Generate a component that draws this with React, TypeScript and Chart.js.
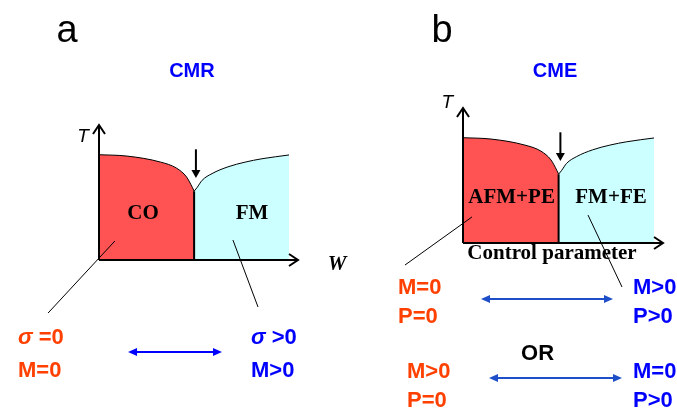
import React, { useEffect, useRef } from "react";
import { Chart, registerables } from "chart.js";

Chart.register(...registerables);

// Schematic phase diagram: control parameter (x, 0..10) vs temperature T (y, 0..10)
const leftPhaseX = [0, 1.4, 3.1, 3.9, 4.4, 4.7, 4.78];
const leftPhaseT = [7.8, 7.7, 7.25, 6.8, 6.15, 5.35, 5.1];
const rightPhaseX = [4.78, 4.92, 5.18, 5.68, 6.48, 7.34, 8.19, 9.55];
const rightPhaseT = [5.1, 5.35, 5.9, 6.4, 6.9, 7.25, 7.5, 7.78];
const criticalX = 4.78;
const criticalT = 5.1;

const RED_FILL = "#ff5252";
const CYAN_FILL = "#ccffff";
const STATE_RED = "#ff4000";
const STATE_BLUE = "#0000ff";
const ARROW_BLUE_B = "#1f4fc8";

const SANS = "'Liberation Sans', Arial, sans-serif";
const SERIF = "'Liberation Serif', 'Times New Roman', serif";

type Seg = { t: string; font: string };
type Label = {
  segs: Seg[];
  x: number;
  y: number;
  color: string;
  align?: "left" | "center";
  baseline?: CanvasTextBaseline;
};
type Arrow2 = { x1: number; x2: number; y: number; color: string };

type PanelSpec = {
  left: number;
  width: number;
  padding: { left: number; right: number; top: number; bottom: number };
  labels: Label[];
  arrows: Arrow2[];
  leaders: number[][];
};

const plain = (t: string, font: string): Seg[] => [{ t, font }];
const STATE_FONT = `bold 22px ${SANS}`;
const sigma = (rest: string): Seg[] => [
  { t: "\u03c3", font: `italic bold 22px ${SANS}` },
  { t: rest, font: STATE_FONT },
];

const panelA: PanelSpec = {
  left: 0,
  width: 360,
  padding: { left: 99, right: 62, top: 125, bottom: 150 },
  labels: [
    { segs: plain("a", `38px ${SANS}`), x: -1.61, y: 16.15, color: "#000", align: "center", baseline: "alphabetic" },
    { segs: plain("CMR", `bold 20px ${SANS}`), x: 4.67, y: 14.0, color: STATE_BLUE, align: "center" },
    { segs: plain("T", `italic 19px ${SANS}`), x: -0.8, y: 9.11, color: "#000", align: "center" },
    { segs: plain("W", `italic bold 21px ${SERIF}`), x: 11.96, y: -0.37, color: "#000", align: "center" },
    { segs: plain("CO", `bold 21px ${SERIF}`), x: 2.21, y: 3.41, color: "#000", align: "center" },
    { segs: plain("FM", `bold 21px ${SERIF}`), x: 7.69, y: 3.41, color: "#000", align: "center" },
    { segs: sigma(" =0"), x: -4.07, y: -5.78, color: STATE_RED },
    { segs: plain("M=0", STATE_FONT), x: -4.07, y: -8.22, color: STATE_RED },
    { segs: sigma(" >0"), x: 7.64, y: -5.78, color: STATE_BLUE },
    { segs: plain("M>0", STATE_FONT), x: 7.64, y: -8.22, color: STATE_BLUE },
  ],
  arrows: [{ x1: 1.46, x2: 6.18, y: -6.81, color: STATE_BLUE }],
  leaders: [
    [0.8, 1.41, -2.56, -3.93],
    [6.73, 1.48, 7.99, -3.48],
  ],
};

const panelB: PanelSpec = {
  left: 360,
  width: 317,
  padding: { left: 103, right: 14, top: 108, bottom: 167 },
  labels: [
    { segs: plain("b", `38px ${SANS}`), x: -1.05, y: 14.89, color: "#000", align: "center", baseline: "alphabetic" },
    { segs: plain("CME", `bold 20px ${SANS}`), x: 4.6, y: 12.74, color: STATE_BLUE, align: "center" },
    { segs: plain("T", `italic 19px ${SANS}`), x: -0.78, y: 10.37, color: "#000", align: "center" },
    { segs: plain("AFM+PE", `bold 21px ${SERIF}`), x: 2.43, y: 3.33, color: "#000", align: "center" },
    { segs: plain("FM+FE", `bold 21px ${SERIF}`), x: 7.4, y: 3.33, color: "#000", align: "center" },
    { segs: plain("Control parameter", `bold 21px ${SERIF}`), x: 4.45, y: -0.81, color: "#000", align: "center" },
    { segs: plain("M=0", STATE_FONT), x: -3.25, y: -3.33, color: STATE_RED },
    { segs: plain("P=0", STATE_FONT), x: -3.25, y: -5.48, color: STATE_RED },
    { segs: plain("M>0", STATE_FONT), x: 8.5, y: -3.33, color: STATE_BLUE },
    { segs: plain("P>0", STATE_FONT), x: 8.5, y: -5.48, color: STATE_BLUE },
    { segs: plain("OR", STATE_FONT), x: 3.73, y: -8.22, color: "#000", align: "center" },
    { segs: plain("M>0", STATE_FONT), x: -2.8, y: -9.56, color: STATE_RED },
    { segs: plain("P=0", STATE_FONT), x: -2.8, y: -11.7, color: STATE_RED },
    { segs: plain("M=0", STATE_FONT), x: 8.5, y: -9.56, color: STATE_BLUE },
    { segs: plain("P>0", STATE_FONT), x: 8.5, y: -11.7, color: STATE_BLUE },
  ],
  arrows: [
    { x1: 0.9, x2: 7.5, y: -4.15, color: ARROW_BLUE_B },
    { x1: 1.3, x2: 7.95, y: -10.0, color: ARROW_BLUE_B },
  ],
  leaders: [
    [0.45, 1.93, -2.9, -1.63],
    [6.25, 2.07, 7.95, -3.26],
  ],
};

const zip = (xs: number[], ys: number[]) => xs.map((x, i) => ({ x, y: ys[i] }));

function makeDecor(spec: PanelSpec) {
  return {
    id: "phaseDecor",
    afterDatasetsDraw(chart: Chart) {
      const ctx = chart.ctx;
      const sx = chart.scales.x;
      const sy = chart.scales.y;
      const px = (v: number) => sx.getPixelForValue(v);
      const py = (v: number) => sy.getPixelForValue(v);
      ctx.save();

      // axes with open arrow heads
      ctx.strokeStyle = "#000";
      ctx.lineWidth = 2;
      ctx.lineCap = "butt";
      const ox = px(0), oy = py(0), tx = px(10), ty = py(10);
      ctx.beginPath();
      ctx.moveTo(ox, oy);
      ctx.lineTo(ox, ty);
      ctx.moveTo(ox, oy);
      ctx.lineTo(tx, oy);
      ctx.stroke();
      ctx.beginPath();
      ctx.moveTo(ox - 6, ty + 9);
      ctx.lineTo(ox, ty);
      ctx.lineTo(ox + 6, ty + 9);
      ctx.moveTo(tx - 9, oy - 6);
      ctx.lineTo(tx, oy);
      ctx.lineTo(tx - 9, oy + 6);
      ctx.stroke();

      // transition marker
      const ax = px(4.87);
      const a1 = py(8.2);
      const a2 = py(6.07);
      ctx.beginPath();
      ctx.moveTo(ax, a1);
      ctx.lineTo(ax, a2 - 6);
      ctx.stroke();
      ctx.fillStyle = "#000";
      ctx.beginPath();
      ctx.moveTo(ax - 4.5, a2 - 8);
      ctx.lineTo(ax + 4.5, a2 - 8);
      ctx.lineTo(ax, a2);
      ctx.closePath();
      ctx.fill();

      // double-headed arrows between states
      for (const ar of spec.arrows) {
        const x1 = px(ar.x1), x2 = px(ar.x2), y = py(ar.y);
        ctx.strokeStyle = ar.color;
        ctx.fillStyle = ar.color;
        ctx.lineWidth = 2;
        ctx.beginPath();
        ctx.moveTo(x1 + 6, y);
        ctx.lineTo(x2 - 6, y);
        ctx.stroke();
        ctx.beginPath();
        ctx.moveTo(x1, y);
        ctx.lineTo(x1 + 9, y - 4);
        ctx.lineTo(x1 + 9, y + 4);
        ctx.closePath();
        ctx.moveTo(x2, y);
        ctx.lineTo(x2 - 9, y - 4);
        ctx.lineTo(x2 - 9, y + 4);
        ctx.closePath();
        ctx.fill();
      }

      // labels
      for (const lb of spec.labels) {
        ctx.fillStyle = lb.color;
        ctx.textBaseline = lb.baseline || "middle";
        ctx.textAlign = "left";
        let total = 0;
        for (const s of lb.segs) {
          ctx.font = s.font;
          total += ctx.measureText(s.t).width;
        }
        let x = px(lb.x) - (lb.align === "center" ? total / 2 : 0);
        const y = py(lb.y);
        for (const s of lb.segs) {
          ctx.font = s.font;
          ctx.fillText(s.t, x, y);
          x += ctx.measureText(s.t).width;
        }
      }
      ctx.restore();
    },
  };
}

function Panel({ spec }: { spec: PanelSpec }) {
  const ref = useRef<HTMLCanvasElement | null>(null);
  useEffect(() => {
    if (!ref.current) return;
    const leaderSets = spec.leaders.map((l) => ({
      data: [
        { x: l[0], y: l[1] },
        { x: l[2], y: l[3] },
      ],
      showLine: true,
      borderColor: "#000",
      borderWidth: 1,
      pointRadius: 0,
      fill: false,
      clip: false as any,
      order: 0,
    }));
    const chart = new Chart(ref.current, {
      type: "scatter",
      data: {
        datasets: [
          {
            data: zip(leftPhaseX, leftPhaseT),
            showLine: true,
            borderColor: "#000",
            borderWidth: 1,
            backgroundColor: RED_FILL,
            fill: "origin",
            pointRadius: 0,
            cubicInterpolationMode: "monotone",
            order: 3,
          },
          {
            data: zip(rightPhaseX, rightPhaseT),
            showLine: true,
            borderColor: "#000",
            borderWidth: 1,
            backgroundColor: CYAN_FILL,
            fill: "origin",
            pointRadius: 0,
            cubicInterpolationMode: "monotone",
            order: 2,
          },
          {
            data: [
              { x: criticalX, y: criticalT },
              { x: criticalX, y: 0 },
            ],
            showLine: true,
            borderColor: "#000",
            borderWidth: 2,
            pointRadius: 0,
            fill: false,
            order: 1,
          },
          ...leaderSets,
        ] as any,
      },
      options: {
        animation: false,
        responsive: false,
        events: [],
        layout: { padding: spec.padding },
        plugins: {
          legend: { display: false },
          tooltip: { enabled: false },
          title: { display: false },
        },
        scales: {
          x: { type: "linear", min: 0, max: 10, display: false },
          y: { type: "linear", min: 0, max: 10, display: false },
        },
      },
      plugins: [makeDecor(spec)],
    });
    return () => chart.destroy();
  }, [spec]);
  return (
    <canvas
      ref={ref}
      width={spec.width}
      height={410}
      style={{ position: "absolute", left: spec.left, top: 0, width: spec.width, height: 410 }}
    />
  );
}

export default function App() {
  return (
    <div
      style={{
        position: "fixed",
        left: 0,
        top: 0,
        width: 677,
        height: 410,
        background: "#fff",
        overflow: "hidden",
      }}
    >
      <Panel spec={panelA} />
      <Panel spec={panelB} />
    </div>
  );
}
